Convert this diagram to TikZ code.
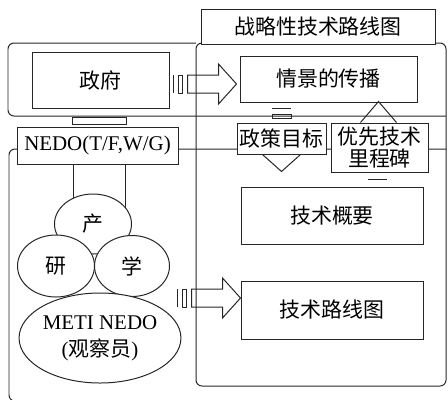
\documentclass[tikz,border=0pt]{standalone}
\usepackage{fontspec}
\setmainfont{Liberation Serif}
\newfontfamily\cjk{Noto Sans CJK SC}
\usetikzlibrary{shapes.geometric}

\tikzset{
  box/.style={draw, fill=white, inner sep=0pt, align=center, font=\fontsize{21}{25}\selectfont\cjk},
  oval/.style={draw, fill=white, ellipse, inner sep=0pt, align=center, font=\fontsize{21}{25}\selectfont\cjk},
  bar/.style={line width=1.8pt},
  % hollow block arrow with a bar and a slot at its tail, tip at (0,0)
  tailarrow/.pic={
    \draw (0,0) -- (-18,-20) -- (-18,-9) -- (-49,-9) -- (-49,9) -- (-18,9) -- (-18,20) -- cycle;
    \draw (-58,-9) rectangle (-54,9);
    \draw[bar] (-63,-9) -- (-63,9);
  }
}

\begin{document}
\begin{tikzpicture}[x=1bp, y=-1bp, line width=1pt, line join=miter, draw=black!85]
  \useasboundingbox (0,0) rectangle (448,399);
  \clip (0,0) rectangle (448,399);

  % ---- frames ----
  \draw[rounded corners=6] (196,43) rectangle (446,386);
  \draw[rounded corners=6] (446,116) -- (8,116) -- (8,43) -- (196,43);
  \draw[rounded corners=6] (446,149) -- (9,149) -- (9,401) -- (120,401);

  % ---- boxes ----
  \node[box, minimum width=234bp, minimum height=35bp] (title) at (318,26.5) {战略性技术路线图};
  \node[box, minimum width=137bp, minimum height=56bp] (gov) at (100.5,80) {政府};
  \node[box, minimum width=54bp, minimum height=7bp] (link) at (99,120.5) {};
  \node[box, minimum width=161bp, minimum height=37bp, font=\fontsize{21}{25}\selectfont\rmfamily] (nedo) at (97.5,145.5) {NEDO(T/F,W/G)};
  \node[box, minimum width=177bp, minimum height=46bp] (scene) at (328.5,79) {情景的传播};
  \node[box, minimum width=89bp, minimum height=31bp] (policy) at (281.5,138.5) {政策目标};
  \node[box, minimum width=97bp, minimum height=49bp, font=\fontsize{21}{22}\selectfont\cjk] (mile) at (379.5,147.5) {优先技术\\里程碑};
  \node[box, minimum width=182bp, minimum height=57bp] (summary) at (332,215.5) {技术概要};
  \node[box, minimum width=182bp, minimum height=58bp] (roadmap) at (332,310) {技术路线图};

  % ---- NEDO down to the circles ----
  \draw ([xshift=-24.5bp]nedo.south) -- ([xshift=-24.5bp]nedo.south |- 0,224);
  \draw ([xshift=27.5bp]nedo.south) -- ([xshift=27.5bp]nedo.south |- 0,224);

  % ---- industry / research / academia ----
  \node[oval, minimum width=77bp, minimum height=60bp] (chan) at (93,224) {产};
  \node[oval, minimum width=77bp, minimum height=62bp] (yan) at (56,266) {研};
  \node[oval, minimum width=75bp, minimum height=61bp] (xue) at (132,266) {学};
  \node[oval, minimum width=147bp, minimum height=90bp, font=\fontsize{21}{27}\selectfont\rmfamily] (meti) at (100,338) {METI NEDO\\({\cjk 观察员})};

  % ---- block arrows into the right panel ----
  \pic at ([xshift=-3bp,yshift=-5bp]scene.west) {tailarrow};
  \pic at ([yshift=12bp]roadmap.west) {tailarrow};

  % ---- scene -> policy targets, tail and head ----
  \draw[bar] ([xshift=-9.5bp,yshift=14bp]policy.north) -- ++(19,0);
  \draw ([xshift=-9.5bp,yshift=8.5bp]policy.north) rectangle ++(19,4);
  \draw ([xshift=-19bp]policy.south) -- ++(19,17) -- ++(19,-17);

  % ---- milestones -> scene, head and tail ----
  \draw ([xshift=-19bp]mile.north) -- ++(18,-21) -- ++(18,21);
  \draw[bar] ([xshift=-11.5bp,yshift=-7bp]mile.south) -- ++(19,0);
\end{tikzpicture}
\end{document}
